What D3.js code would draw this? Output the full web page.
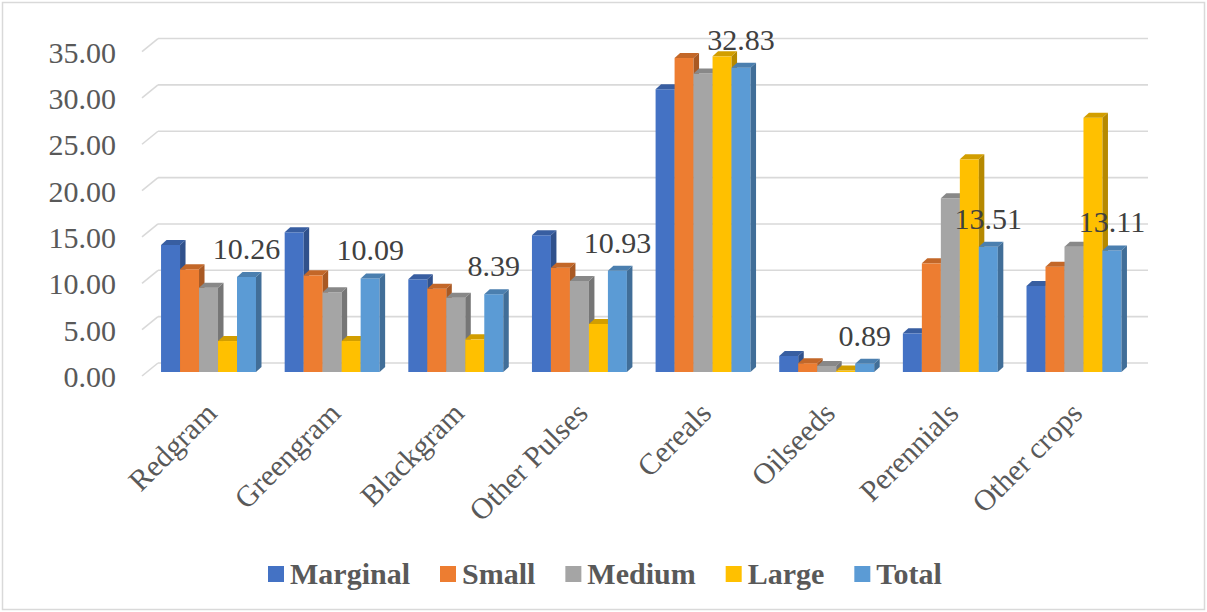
<!DOCTYPE html>
<html>
<head>
<meta charset="utf-8">
<script src="https://cdn.jsdelivr.net/npm/d3@7"></script>
</head>
<body style="margin:0">
<svg id="chart" width="1207" height="612"></svg>
<script>
// data
const categories = ["Redgram", "Greengram", "Blackgram", "Other Pulses", "Cereals", "Oilseeds", "Perennials", "Other crops"];
const seriesNames = ["Marginal", "Small", "Medium", "Large", "Total"];
const marginal = [13.70, 15.07, 10.00, 14.75, 30.50, 1.73, 4.17, 9.28];
const small = [11.08, 10.43, 8.99, 11.25, 33.87, 0.95, 11.72, 11.36];
const medium = [9.10, 8.60, 8.02, 9.82, 32.20, 0.65, 18.74, 13.52];
const large = [3.34, 3.34, 3.52, 5.18, 34.05, 0.15, 22.94, 27.43];
const total = [10.26, 10.09, 8.39, 10.93, 32.83, 0.89, 13.51, 13.11];
const yTicks = [0, 5, 10, 15, 20, 25, 30, 35];
const colors = ["#4472C4", "#ED7D31", "#A5A5A5", "#FFC000", "#5B9BD5"];

const seriesValues = [marginal, small, medium, large, total];
const serif = "'Liberation Serif', monospace";

var svg = d3.select("#chart");

// chart border
svg.append("rect").attr("x", 2.5).attr("y", 2.5).attr("width", 1202).attr("height", 607)
    .attr("fill", "#fff").attr("stroke", "#d9d9d9").attr("stroke-width", 1.5);

var yScale = d3.scaleLinear().domain([0, 35]).range([372, 47.55]);
var x0 = d3.scaleBand().domain(categories).range([146.7, 1135.8]).padding(0);
var groupW = x0.bandwidth() * 0.768;
var x1 = d3.scaleBand().domain(seriesNames).range([0, groupW]).padding(0);
var dx = 5.5, dy = -5;   // bar depth
var floorDx = 16, floorBack = -9, floorFront = 4;

// gridlines (back wall) + floor stubs
var grid = svg.append("g");
yTicks.forEach(function (t) {
    var y = yScale(t);
    grid.append("line").attr("x1", 158).attr("x2", 1148).attr("y1", y + floorBack).attr("y2", y + floorBack)
        .attr("stroke", "#d9d9d9").attr("stroke-width", 1.6);
    grid.append("line").attr("x1", 142).attr("x2", 142 + floorDx).attr("y1", y + floorFront).attr("y2", y + floorBack)
        .attr("stroke", "#d9d9d9").attr("stroke-width", 1.6);
    grid.append("text").attr("x", 116).attr("y", y + 15).attr("text-anchor", "end")
        .attr("font-family", serif).attr("font-size", 30).attr("fill", "#595959").text(d3.format(".2f")(t));
});

// bars
var bars = svg.append("g");
categories.forEach(function (cat, ci) {
    var gx = x0(cat) + (x0.bandwidth() - groupW) / 2;
    seriesNames.forEach(function (s, si) {
        var v = seriesValues[si][ci];
        var x = gx + x1(s), w = x1.bandwidth();
        var yt = yScale(v), yb = yScale(0);
        var c = d3.color(colors[si]);
        bars.append("rect").attr("x", x).attr("y", yt).attr("width", w).attr("height", yb - yt).attr("fill", colors[si]);
        bars.append("polygon")
            .attr("points", [[x, yt], [x + w, yt], [x + w + dx, yt + dy], [x + dx, yt + dy]].join(" "))
            .attr("fill", c.darker(0.55));
        bars.append("polygon")
            .attr("points", [[x + w, yt], [x + w + dx, yt + dy], [x + w + dx, yb + dy], [x + w, yb]].join(" "))
            .attr("fill", c.darker(0.95));
    });
});

// data labels on Total
categories.forEach(function (cat, ci) {
    var gx = x0(cat) + (x0.bandwidth() - groupW) / 2;
    var x = gx + x1("Total") + x1.bandwidth() / 2;
    svg.append("text").attr("x", x).attr("y", yScale(total[ci]) - 18).attr("text-anchor", "middle")
        .attr("font-family", serif).attr("font-size", 30).attr("fill", "#404040").text(d3.format(".2f")(total[ci]));
});

// category labels
categories.forEach(function (cat) {
    var cx = x0(cat) + x0.bandwidth() / 2;
    svg.append("text").attr("transform", "translate(" + (cx + 10) + ",415) rotate(-45)")
        .attr("text-anchor", "end").attr("font-family", serif).attr("font-size", 30).attr("fill", "#595959").text(cat);
});

// legend
var legend = svg.append("g");
var lx = 268;
seriesNames.forEach(function (s, si) {
    legend.append("rect").attr("x", lx).attr("y", 566).attr("width", 16).attr("height", 16).attr("fill", colors[si]);
    var t = legend.append("text").attr("x", lx + 22).attr("y", 584).attr("font-family", serif).attr("font-size", 30)
        .attr("font-weight", "bold").attr("fill", "#595959").text(s);
    lx += 22 + t.node().getComputedTextLength() + 30;
});
</script>
</body>
</html>
